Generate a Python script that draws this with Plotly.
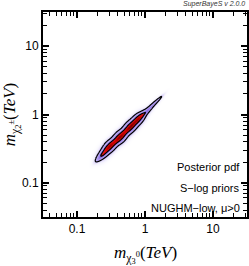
import numpy as np
import plotly.graph_objects as go

# Ridge of the posterior: masses in TeV
ridge_x = [0.24, 0.305, 0.429, 0.601, 0.789, 1.05, 1.28, 1.55]
ridge_y = [0.262, 0.345, 0.468, 0.655, 0.857, 1.10, 1.36, 1.62]
ridge_w = [0.35, 0.9, 1.0, 1.0, 0.85, 0.2, 0.12, 0.07]
ridge_sp = [0.020, 0.020, 0.021, 0.020, 0.019, 0.013, 0.011, 0.010]
halo_frac = 0.3
halo_scale = 2.3

x_ticks = [0.1, 1, 10]
x_ticktext = ["0.1", "1", "10"]
y_ticks = [0.1, 1, 10]
y_ticktext = ["0.1", "1", "10"]

labels = ["Posterior pdf", "S\u2212log priors", "NUGHM\u2212low, \u03bc>0"]

# grid in log space
lx = np.linspace(-1.0, 0.7, 450)
ly = np.linspace(-1.0, 0.7, 450)
LX, LY = np.meshgrid(lx, ly)
c = np.sqrt(0.5)
Z = np.zeros_like(LX)
for xr, yr, w, sp in zip(ridge_x, ridge_y, ridge_w, ridge_sp):
    dx = LX - np.log10(xr)
    dy = LY - np.log10(yr)
    da = (dx + dy) * c
    dp = (dy - dx) * c
    along = np.exp(-da**2 / (2 * 0.075**2))
    Z += w * along * (np.exp(-dp**2 / (2 * sp**2))
                      + halo_frac * np.exp(-dp**2 / (2 * (halo_scale * sp)**2)))
Z = Z / Z.max()

zs = np.sort(Z.ravel())[::-1]
cs = np.cumsum(zs) / zs.sum()
L68 = zs[np.searchsorted(cs, 0.68)]
L95 = zs[np.searchsorted(cs, 0.95)]

cscale = [
    [0.0, "rgb(255,255,255)"],
    [L95 * 0.35, "rgb(236,232,252)"],
    [L95, "rgb(196,180,246)"],
    [L68 - 0.002, "rgb(124,92,226)"],
    [L68, "rgb(240,30,30)"],
    [(L68 + 1) / 2, "rgb(215,0,0)"],
    [1.0, "rgb(120,0,0)"],
]

xv = 10 ** lx
yv = 10 ** ly

fig = go.Figure()
fig.add_trace(go.Contour(
    x=xv, y=yv, z=Z, colorscale=cscale, zmin=0, zmax=1,
    contours=dict(coloring="heatmap", showlines=False),
    line=dict(width=0), showscale=False, hoverinfo="skip",
))
fig.add_trace(go.Contour(
    x=xv, y=yv, z=Z,
    contours=dict(coloring="none", start=L95, end=L68, size=L68 - L95),
    line=dict(color="black", width=1.2), showscale=False, hoverinfo="skip",
))

minor_vals = [m * 10.0 ** e for e in range(-2, 2) for m in range(2, 10)]
axis_common = dict(
    type="log", range=[-1.5, 1.5], showgrid=False, zeroline=False,
    showline=True, linecolor="black", linewidth=2, mirror="ticks",
    ticks="inside", ticklen=6, tickwidth=1.5, tickcolor="black",
    tickfont=dict(family="Liberation Sans, Arial", size=12, color="black"),
    minor=dict(ticks="inside", ticklen=4, tickwidth=1, tickcolor="black",
               tickmode="array", tickvals=minor_vals, showgrid=False),
    automargin=False,
)

title_font = dict(family="Liberation Serif, DejaVu Serif", size=17, color="black")
fig.update_xaxes(**axis_common, tickmode="array", tickvals=x_ticks, ticktext=x_ticktext)
fig.update_yaxes(**axis_common, tickmode="array", tickvals=y_ticks, ticktext=y_ticktext,
                 title=dict(text="<i>m</i><sub>\u03c7<sub>2</sub><sup>\u00b1</sup></sub>(<i>TeV</i>)",
                            font=title_font, standoff=6))

fig.add_annotation(text="<i>m</i><sub>\u03c7<sub>3</sub><sup>0</sup></sub>(<i>TeV</i>)",
                   xref="paper", yref="paper", x=0.5, y=-0.185, xanchor="center",
                   yanchor="middle", showarrow=False, font=title_font)

for txt, yy in zip(labels, [0.244, 0.14, 0.043]):
    fig.add_annotation(text=txt, xref="paper", yref="paper", x=0.975, y=yy,
                       xanchor="right", yanchor="middle", showarrow=False,
                       font=dict(family="Liberation Sans, Arial", size=11, color="black"))
fig.add_annotation(text="<i>SuperBayeS v 2.0.0</i>", xref="paper", yref="paper", x=1.0, y=1.04,
                   xanchor="right", yanchor="middle", showarrow=False,
                   font=dict(family="Liberation Sans, Arial", size=7, color="#333"))

fig.update_layout(
    width=249, height=266, margin=dict(l=43, r=2, t=12, b=49),
    paper_bgcolor="white", plot_bgcolor="white", showlegend=False,
)
fig.write_html("out.html", config={"displayModeBar": False},
               post_script="document.body.style.margin='0';document.body.style.overflow='hidden';")
